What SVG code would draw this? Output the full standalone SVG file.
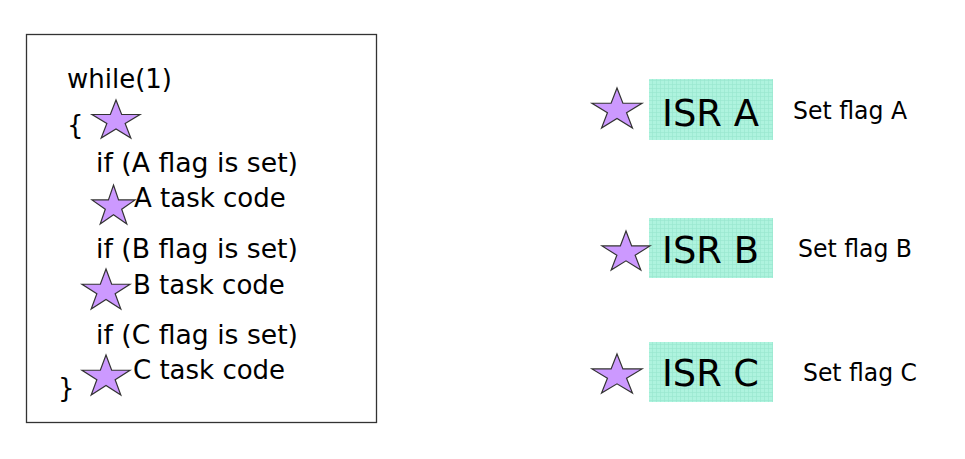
<svg xmlns="http://www.w3.org/2000/svg" width="965" height="459" viewBox="0 0 965 459">
<style>
.code{font-family:"DejaVu Sans","Liberation Sans",sans-serif;font-size:26px;fill:#000}
.isr{font-family:"DejaVu Sans","Liberation Sans",sans-serif;font-size:38px;fill:#000}
.lbl{font-family:"DejaVu Sans","Liberation Sans",sans-serif;font-size:24px;fill:#000}
.star{fill:#cc99ff;stroke:#333;stroke-width:1.2;stroke-linejoin:miter}
.box{fill:url(#grid);stroke:none}
</style>
<defs>
<pattern id="grid" width="4" height="4" patternUnits="userSpaceOnUse">
<rect width="4" height="4" fill="#aef3de"/>
<path d="M0 0.5H4M0.5 0V4" stroke="#97e6cc" stroke-width="0.6"/>
</pattern>
</defs>
<rect width="965" height="459" fill="#fff"/>
<g id="loop">
<rect x="26.5" y="34.5" width="350" height="388" fill="#fff" stroke="#333" stroke-width="1.3"/>
<text class="code" x="67" y="88">while(1)</text>
<text class="code" x="67" y="134">{</text>
<text class="code" x="96" y="172" textLength="202" lengthAdjust="spacingAndGlyphs">if (A flag is set)</text>
<text class="code" x="134" y="207">A task code</text>
<text class="code" x="96" y="258" textLength="202" lengthAdjust="spacingAndGlyphs">if (B flag is set)</text>
<text class="code" x="133" y="294">B task code</text>
<text class="code" x="96" y="344" textLength="202" lengthAdjust="spacingAndGlyphs">if (C flag is set)</text>
<text class="code" x="133" y="379">C task code</text>
<text class="code" x="58" y="397">}</text>
<polygon class="star" points="116,100 121.66,114.51 139.97,114.51 125.15,123.48 130.82,137.99 116,129.02 101.18,137.99 106.85,123.48 92.03,114.51 110.34,114.51"/>
<polygon class="star" points="113.5,185 118.57,199.93 134.99,199.93 121.7,209.15 126.79,224.07 113.5,214.85 100.21,224.07 105.3,209.15 92.01,199.93 108.43,199.93"/>
<polygon class="star" points="106,269 111.66,284.27 129.97,284.27 115.15,293.71 120.82,308.98 106,299.54 91.18,308.98 96.85,293.71 82.03,284.27 100.34,284.27"/>
<polygon class="star" points="106,355 111.66,370.27 129.97,370.27 115.15,379.71 120.82,394.98 106,385.54 91.18,394.98 96.85,379.71 82.03,370.27 100.34,370.27"/>
</g>
<g id="isrA">
<rect class="box" x="649" y="79" width="124" height="61"/>
<polygon class="star" points="617,88 622.9,103.27 642.01,103.27 626.55,112.71 632.46,127.98 617,118.54 601.54,127.98 607.45,112.71 591.99,103.27 611.1,103.27"/>
<text class="isr" x="662" y="126" textLength="97" lengthAdjust="spacingAndGlyphs">ISR A</text>
<text class="lbl" x="793" y="119" textLength="114" lengthAdjust="spacingAndGlyphs">Set flag A</text>
</g>
<g id="isrB">
<rect class="box" x="649" y="218" width="124" height="60"/>
<polygon class="star" points="626,231 631.66,245.93 649.97,245.93 635.15,255.15 640.82,270.07 626,260.85 611.18,270.07 616.85,255.15 602.03,245.93 620.34,245.93"/>
<text class="isr" x="662" y="263" textLength="97" lengthAdjust="spacingAndGlyphs">ISR B</text>
<text class="lbl" x="798" y="257" textLength="114" lengthAdjust="spacingAndGlyphs">Set flag B</text>
</g>
<g id="isrC">
<rect class="box" x="649" y="342" width="124" height="60"/>
<polygon class="star" points="617,354 622.9,368.93 642.01,368.93 626.55,378.15 632.46,393.07 617,383.85 601.54,393.07 607.45,378.15 591.99,368.93 611.1,368.93"/>
<text class="isr" x="662" y="386" textLength="97" lengthAdjust="spacingAndGlyphs">ISR C</text>
<text class="lbl" x="803" y="381" textLength="114" lengthAdjust="spacingAndGlyphs">Set flag C</text>
</g>
</svg>
